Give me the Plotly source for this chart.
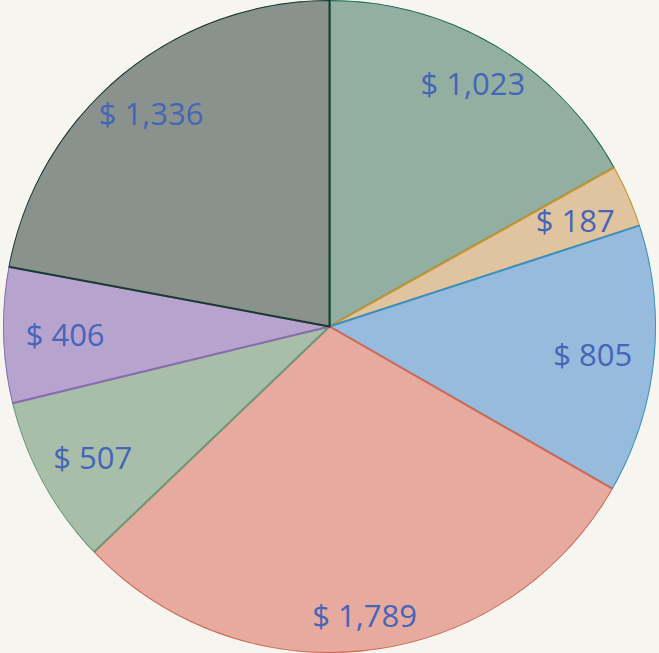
import numpy as np
import plotly.graph_objects as go

categories = ["A", "B", "C", "D", "E", "F", "G"]
values = [1023, 187, 805, 1789, 507, 406, 1336]
labels_text = ["$ 1,023", "$ 187", "$ 805", "$ 1,789", "$ 507", "$ 406", "$ 1,336"]

fill_colors = ["#93afa1", "#e0c49f", "#96bbdd", "#e7aa9f", "#a9bea9", "#b7a4ce", "#89928c"]
line_colors = ["#1d6b58", "#c8962e", "#3a90c0", "#d06a55", "#6a9a7a", "#8a6ab0", "#1a3a30"]

W, H = 659, 653
vals = np.array(values, dtype=float)
angles = vals / vals.sum() * 360.0
mid_theta = np.cumsum(angles) - angles / 2.0

# label ring: slightly elliptical (labels kept inside the outer rim)
th = np.radians(mid_theta)
ax_h, ax_v = 0.81, 0.89
label_r = 1.0 / np.sqrt((np.sin(th) / ax_h) ** 2 + (np.cos(th) / ax_v) ** 2)

# label overlay polar is shifted down a few px to centre the glyphs optically
shift_px = 5
lab_top = 1 - 2 * shift_px / H
scale = (min(W, H) / 2) / (min(W, H * lab_top) / 2)

fig = go.Figure()
fig.add_trace(go.Barpolar(
    r=[1.0] * len(values),
    theta=mid_theta,
    width=angles,
    base=0,
    text=categories,
    customdata=values,
    hovertemplate="%{text}: %{customdata}<extra></extra>",
    marker=dict(color=fill_colors, line=dict(color=line_colors, width=2)),
    showlegend=False,
    subplot="polar",
))
fig.add_trace(go.Scatterpolar(
    r=label_r * scale,
    theta=mid_theta,
    mode="text",
    text=labels_text,
    textfont=dict(family="Open Sans", size=31, color="#4565b8"),
    hoverinfo="skip",
    showlegend=False,
    subplot="polar2",
    cliponaxis=False,
))
common_ang = dict(rotation=90, direction="clockwise", visible=False, showgrid=False)
fig.update_layout(
    width=W, height=H,
    margin=dict(l=0, r=0, t=0, b=0),
    paper_bgcolor="#f6f5f0",
    plot_bgcolor="#f6f5f0",
    polar=dict(
        domain=dict(x=[0, 1], y=[0, 1]),
        bgcolor="rgba(0,0,0,0)",
        bargap=0,
        radialaxis=dict(range=[0, 1], visible=False, showgrid=False),
        angularaxis=common_ang,
    ),
    polar2=dict(
        domain=dict(x=[0, 1], y=[0, lab_top]),
        bgcolor="rgba(0,0,0,0)",
        radialaxis=dict(range=[0, 1], visible=False, showgrid=False),
        angularaxis=common_ang,
    ),
)
fig.write_html("out.html", config={"displayModeBar": False},
               post_script="document.body.style.margin='0';document.body.style.background='#f6f5f0';")
